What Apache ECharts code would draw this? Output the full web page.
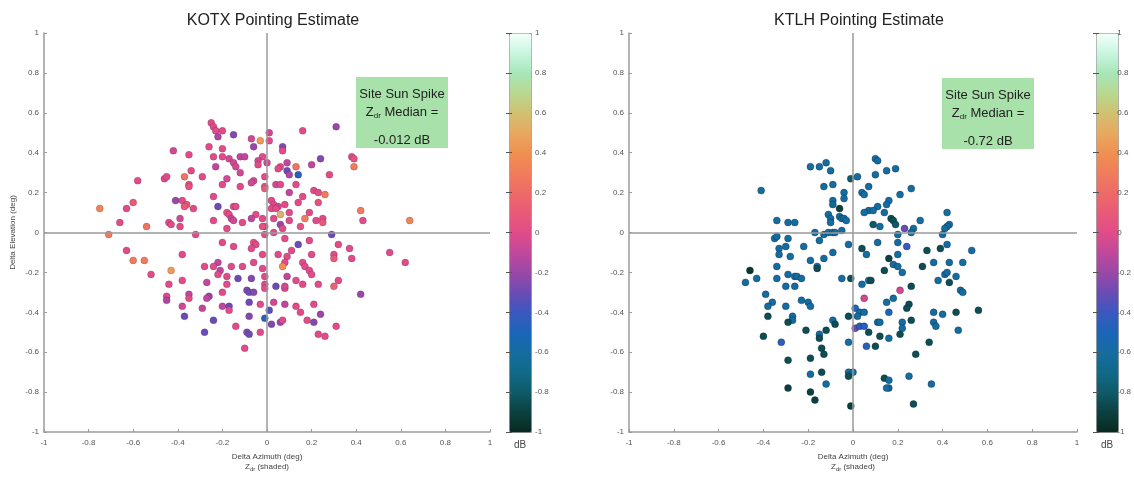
<!DOCTYPE html>
<html>
<head>
<meta charset="utf-8">
<script src="https://cdn.jsdelivr.net/npm/echarts@6/dist/echarts.min.js"></script>
<style>
  html, body { margin: 0; padding: 0; background: #fff; }
  #chart { width: 1134px; height: 478px; }
</style>
</head>
<body>
<div id="chart"></div>
<script>
// tick values / labels shared by every axis
const tickLabels = ["-1", "-0.8", "-0.6", "-0.4", "-0.2", "0", "0.2", "0.4", "0.6", "0.8", "1"];
const siteTitles = ["KOTX Pointing Estimate", "KTLH Pointing Estimate"];
const siteMedians = ["-0.012 dB", "-0.72 dB"];

// [delta azimuth, delta elevation, Zdr dB]
const kotxPoints = [
  [-0.25, 0.55, 0], [-0.24, 0.53, 0], [-0.23, 0.51, 0], [-0.22, 0.48, -0.15], [-0.2, 0.51, 0],
  [-0.15, 0.49, -0.25], [0.01, 0.5, -0.05], [0.16, 0.51, 0], [0.31, 0.53, -0.2],
  [-0.03, 0.46, 0.45], [0.01, 0.46, 0], [-0.07, 0.47, -0.05], [-0.06, 0.43, -0.2], [0.07, 0.43, -0.25],
  [-0.26, 0.43, 0], [-0.2, 0.42, 0], [-0.42, 0.41, -0.05], [0.07, 0.41, 0],
  [-0.35, 0.39, 0], [-0.24, 0.38, 0], [-0.2, 0.38, 0], [-0.12, 0.38, -0.1], [-0.1, 0.38, -0.1],
  [-0.02, 0.38, 0], [-0.04, 0.36, -0.05], [0.38, 0.38, 0], [0.39, 0.37, 0.05], [-0.17, 0.37, -0.05],
  [-0.15, 0.35, -0.05], [-0.14, 0.33, -0.05], [-0.23, 0.33, -0.1], [-0.04, 0.34, 0], [0.0, 0.35, -0.05],
  [0.06, 0.33, 0], [0.05, 0.32, 0], [0.09, 0.35, -0.1], [0.13, 0.33, 0.25], [0.2, 0.34, -0.1],
  [0.24, 0.37, -0.25], [0.39, 0.33, 0.3],
  [0.09, 0.31, -0.3], [0.1, 0.29, -0.15], [0.14, 0.29, -0.45], [-0.34, 0.31, 0], [-0.12, 0.3, -0.05],
  [-0.46, 0.27, 0], [-0.45, 0.28, 0], [-0.37, 0.28, 0.25], [-0.29, 0.28, 0], [-0.18, 0.27, -0.05],
  [-0.01, 0.28, 0], [0.28, 0.29, 0], [-0.58, 0.26, 0], [-0.35, 0.24, 0.05], [-0.35, 0.23, 0.05],
  [-0.06, 0.26, -0.05], [-0.07, 0.25, -0.05], [-0.2, 0.24, 0], [-0.12, 0.23, 0], [0.04, 0.24, -0.05],
  [0.06, 0.24, 0], [0.13, 0.24, 0], [-0.01, 0.23, 0.1], [-0.01, 0.22, 0.1], [0.21, 0.21, 0],
  [0.23, 0.2, 0], [0.26, 0.19, 0.3], [0.1, 0.2, -0.1], [0.16, 0.18, 0], [-0.24, 0.18, 0],
  [-0.41, 0.16, -0.2], [-0.38, 0.16, 0], [-0.36, 0.14, 0.1], [-0.37, 0.13, 0.1], [-0.6, 0.15, 0.1],
  [-0.63, 0.12, 0], [-0.75, 0.12, 0.35], [-0.22, 0.13, -0.3], [-0.15, 0.13, 0], [-0.14, 0.13, 0],
  [0.02, 0.16, 0], [0.03, 0.14, 0], [0.05, 0.13, -0.05], [0.08, 0.14, 0], [0.14, 0.15, 0],
  [0.23, 0.15, 0.05], [0.02, 0.12, 0], [0.04, 0.12, 0], [0.06, 0.09, 0.55], [-0.33, 0.12, 0],
  [-0.18, 0.1, 0.05], [-0.17, 0.09, 0], [-0.05, 0.09, 0], [0.1, 0.1, 0], [0.19, 0.1, 0],
  [0.42, 0.11, 0.3], [0.64, 0.06, 0.35], [-0.39, 0.07, -0.05], [-0.16, 0.07, -0.1], [-0.15, 0.06, -0.05],
  [-0.11, 0.05, 0], [-0.07, 0.07, -0.1], [-0.02, 0.07, 0], [0.03, 0.07, 0], [0.06, 0.04, -0.2],
  [0.1, 0.06, 0], [0.17, 0.07, 0.3], [0.22, 0.06, 0], [0.25, 0.07, 0], [0.25, 0.05, 0.1],
  [0.43, 0.06, 0], [-0.66, 0.05, 0], [-0.44, 0.05, 0], [-0.43, 0.04, 0], [-0.54, 0.03, 0.25],
  [-0.39, 0.03, 0], [-0.24, 0.06, 0], [-0.18, 0.02, 0], [-0.01, 0.03, 0], [-0.02, 0.03, 0.05],
  [0.07, 0.02, 0], [0.15, 0.03, 0.05], [-0.71, -0.01, 0.3], [-0.32, -0.01, 0], [-0.01, -0.01, 0],
  [0.03, 0.0, 0], [0.29, -0.01, -0.3],
  [-0.06, -0.05, 0.05], [-0.2, -0.05, 0], [-0.05, -0.06, 0], [-0.15, -0.07, 0], [-0.07, -0.08, 0],
  [0.08, -0.03, 0], [0.14, -0.06, -0.3], [0.19, -0.04, 0], [0.32, -0.06, 0], [0.37, -0.08, 0],
  [-0.63, -0.09, 0], [0.11, -0.09, 0], [0.09, -0.12, 0], [-0.02, -0.11, 0], [0.05, -0.11, 0],
  [0.2, -0.11, 0], [0.3, -0.11, 0], [0.3, -0.13, 0.1], [0.38, -0.13, 0], [0.55, -0.1, 0],
  [0.62, -0.15, 0], [-0.55, -0.14, 0.3], [-0.6, -0.14, 0.3], [-0.38, -0.11, 0], [-0.22, -0.15, -0.1],
  [-0.24, -0.17, 0], [-0.16, -0.17, 0], [-0.21, -0.19, -0.1], [-0.22, -0.21, 0], [-0.43, -0.19, 0.45],
  [0.08, -0.15, 0], [0.07, -0.17, 0.4], [0.16, -0.15, 0], [0.17, -0.17, 0], [0.19, -0.19, 0],
  [0.2, -0.21, 0], [-0.52, -0.21, 0], [-0.28, -0.17, 0], [-0.11, -0.17, 0], [-0.06, -0.15, 0],
  [-0.02, -0.18, 0], [0.09, -0.22, -0.1], [-0.18, -0.22, 0], [-0.13, -0.23, -0.3], [-0.07, -0.23, -0.25],
  [-0.01, -0.22, 0], [-0.38, -0.24, 0], [-0.44, -0.26, 0], [-0.27, -0.25, -0.1], [-0.18, -0.26, 0],
  [-0.01, -0.26, 0], [-0.01, -0.28, 0], [0.04, -0.27, -0.3], [0.08, -0.28, 0], [0.08, -0.27, -0.05],
  [0.13, -0.24, 0], [0.16, -0.26, 0], [0.23, -0.26, 0], [0.3, -0.27, 0.15], [0.32, -0.24, 0],
  [0.42, -0.31, -0.2], [-0.09, -0.29, -0.25], [-0.08, -0.3, -0.3], [-0.06, -0.3, -0.25], [-0.35, -0.31, -0.1],
  [-0.35, -0.33, 0], [-0.45, -0.32, 0], [-0.45, -0.34, -0.15], [-0.26, -0.32, -0.2], [-0.27, -0.33, -0.1],
  [-0.2, -0.3, 0], [-0.08, -0.35, -0.3], [-0.03, -0.36, 0], [0.03, -0.35, -0.05], [0.08, -0.36, -0.1],
  [0.13, -0.37, 0], [0.21, -0.36, 0], [-0.38, -0.37, -0.05], [-0.29, -0.38, -0.1], [-0.2, -0.37, -0.1],
  [-0.17, -0.37, -0.3], [-0.17, -0.39, 0], [0.01, -0.39, -0.35], [0.15, -0.4, 0], [0.24, -0.41, -0.2],
  [-0.37, -0.42, -0.3], [-0.08, -0.42, -0.25], [-0.24, -0.44, -0.3], [-0.01, -0.43, -0.45], [0.06, -0.45, -0.2],
  [0.07, -0.44, 0], [0.18, -0.44, 0], [0.21, -0.45, -0.25], [-0.14, -0.47, 0], [0.02, -0.46, -0.25],
  [0.31, -0.47, 0], [-0.28, -0.5, -0.3], [-0.09, -0.5, -0.25], [-0.08, -0.51, -0.3], [-0.03, -0.5, 0],
  [0.23, -0.51, 0], [0.26, -0.52, 0], [-0.1, -0.58, 0]
];

const ktlhPoints = [
  [0.1, 0.37, -0.6], [0.11, 0.36, -0.6], [-0.19, 0.33, -0.6], [-0.15, 0.33, -0.6], [-0.12, 0.35, -0.6],
  [-0.1, 0.31, -0.6], [0.15, 0.31, -0.6], [0.19, 0.32, -0.6], [-0.01, 0.27, -0.8], [0.02, 0.28, -0.6],
  [0.1, 0.29, -0.6], [0.04, 0.2, -0.6], [0.05, 0.19, -0.6], [-0.13, 0.23, -0.6], [-0.09, 0.24, -0.6],
  [-0.04, 0.2, -0.6], [-0.04, 0.17, -0.6], [0.07, 0.23, -0.6], [0.21, 0.19, -0.6], [0.26, 0.22, -0.6],
  [-0.41, 0.21, -0.6], [-0.09, 0.16, -0.6], [-0.09, 0.14, -0.65], [-0.06, 0.12, -0.9], [0.16, 0.16, -0.6],
  [0.15, 0.14, -0.6], [0.11, 0.13, -0.6], [0.07, 0.11, -0.6], [0.09, 0.11, -0.6], [0.05, 0.1, -0.6],
  [0.14, 0.1, -0.6], [-0.11, 0.09, -0.6], [-0.1, 0.07, -0.6], [-0.06, 0.08, -0.6], [-0.05, 0.07, -0.6],
  [-0.04, 0.07, -0.6], [-0.03, 0.06, -0.6], [-0.1, 0.05, -0.6], [0.09, 0.04, -0.8], [0.12, 0.03, -0.6],
  [0.17, 0.07, -0.85], [0.18, 0.06, -0.85], [0.19, 0.04, -0.8], [-0.34, 0.06, -0.6], [-0.29, 0.05, -0.6],
  [-0.26, 0.05, -0.6], [0.3, 0.06, -0.6], [0.42, 0.1, -0.6], [0.43, 0.04, -0.6], [0.42, 0.03, -0.6],
  [0.41, 0.02, -0.6], [0.4, -0.01, -0.6], [0.23, 0.02, -0.3], [0.27, 0.02, -0.6], [0.26, 0.0, -0.6],
  [0.2, -0.01, -0.6], [-0.17, 0.0, -0.6], [-0.15, -0.04, -0.6], [-0.13, -0.01, -0.6], [-0.11, 0.0, -0.6],
  [-0.09, 0.0, -0.6], [-0.08, 0.0, -0.6], [-0.05, 0.01, -0.6], [-0.35, -0.03, -0.6], [-0.34, -0.02, -0.6],
  [-0.33, -0.08, -0.6], [-0.29, -0.03, -0.6], [-0.3, -0.07, -0.6], [-0.22, -0.07, -0.6], [-0.33, -0.11, -0.6],
  [-0.28, -0.12, -0.6], [-0.19, -0.14, -0.6], [-0.13, -0.13, -0.6], [-0.09, -0.1, -0.6], [-0.02, -0.06, -0.6],
  [0.04, -0.08, -0.85], [0.06, -0.11, -0.6], [0.11, -0.05, -0.6], [0.2, -0.05, -0.6], [0.24, -0.07, -0.4],
  [0.33, -0.09, -0.85], [0.39, -0.08, -0.85], [0.42, -0.06, -0.6], [0.53, -0.09, -0.6], [0.16, -0.13, -0.9],
  [0.18, -0.16, -0.6], [0.2, -0.17, -0.6], [0.2, -0.11, -0.6], [0.36, -0.15, -0.6], [0.43, -0.15, -0.6],
  [0.49, -0.15, -0.6], [0.31, -0.17, -0.85], [-0.34, -0.17, -0.6], [-0.16, -0.17, -0.6], [-0.16, -0.18, -0.85],
  [-0.46, -0.19, -0.95], [-0.43, -0.23, -0.6], [-0.48, -0.25, -0.6], [-0.34, -0.23, -0.6], [-0.29, -0.21, -0.6],
  [-0.26, -0.22, -0.6], [-0.25, -0.22, -0.6], [-0.23, -0.23, -0.6], [-0.3, -0.27, -0.6], [-0.26, -0.27, -0.6],
  [-0.05, -0.23, -0.6], [-0.01, -0.23, -0.85], [0.04, -0.26, -0.6], [0.07, -0.24, -0.6], [0.08, -0.24, -0.85],
  [0.14, -0.19, -0.85], [0.22, -0.2, -0.6], [0.41, -0.21, -0.6], [0.42, -0.2, -0.6], [0.46, -0.22, -0.6],
  [0.43, -0.25, -0.85], [0.38, -0.24, -0.6], [0.48, -0.29, -0.6], [0.49, -0.3, -0.6], [0.26, -0.27, -0.85],
  [0.21, -0.29, -0.05], [0.05, -0.33, -0.05], [-0.39, -0.31, -0.6], [-0.36, -0.35, -0.6], [-0.38, -0.37, -0.6],
  [-0.3, -0.37, -0.6], [-0.23, -0.34, -0.6], [-0.2, -0.35, -0.6], [-0.19, -0.37, -0.6], [0.15, -0.35, -0.6],
  [0.18, -0.33, -0.6], [0.25, -0.36, -0.85], [0.24, -0.38, -0.85], [0.16, -0.4, -0.5], [0.01, -0.38, -0.5],
  [0.03, -0.4, -0.6], [0.05, -0.4, -0.6], [0.02, -0.42, -0.6], [-0.02, -0.42, -0.85], [-0.38, -0.42, -0.85],
  [-0.27, -0.42, -0.6], [-0.27, -0.44, -0.6], [-0.29, -0.45, -0.85], [-0.09, -0.44, -0.6], [-0.08, -0.46, -0.85],
  [0.01, -0.48, -0.3], [0.03, -0.47, -0.45], [0.05, -0.47, -0.45], [0.11, -0.45, -0.6], [0.12, -0.45, -0.6],
  [0.22, -0.45, -0.6], [0.26, -0.44, -0.85], [0.22, -0.48, -0.6], [0.21, -0.51, -0.85], [0.36, -0.4, -0.6],
  [0.36, -0.45, -0.6], [0.37, -0.47, -0.6], [0.4, -0.41, -0.6], [0.46, -0.4, -0.85], [0.56, -0.39, -0.85],
  [0.47, -0.49, -0.6], [-0.21, -0.49, -0.85], [-0.12, -0.49, -0.85], [-0.15, -0.51, -0.6], [-0.15, -0.53, -0.85],
  [-0.4, -0.52, -0.85], [0.07, -0.5, -0.85], [0.12, -0.52, -0.85], [0.16, -0.53, -0.6], [-0.32, -0.55, -0.45],
  [-0.02, -0.55, -0.6], [0.06, -0.57, -0.45], [0.1, -0.57, -0.85], [0.34, -0.55, -0.85], [-0.14, -0.58, -0.85],
  [-0.13, -0.61, -0.85], [0.28, -0.61, -0.85], [-0.29, -0.64, -0.85], [-0.19, -0.63, -0.85], [-0.19, -0.71, -0.6],
  [-0.14, -0.7, -0.85], [-0.02, -0.7, -0.6], [0.0, -0.7, -0.6], [-0.02, -0.72, -0.85], [0.14, -0.73, -0.85],
  [0.16, -0.74, -0.6], [0.16, -0.78, -0.6], [0.15, -0.78, -0.6], [0.25, -0.72, -0.6], [0.35, -0.76, -0.6],
  [-0.12, -0.76, -0.6], [-0.29, -0.78, -0.9], [-0.19, -0.8, -0.9], [-0.17, -0.84, -0.9], [-0.01, -0.87, -0.9],
  [0.27, -0.86, -0.85]
];

// colour ramp from -1 (bottom) to 1 (top)
const zdrColors = [
  "#082a1e", "#0c4040", "#0f5a68", "#106a88", "#156ca0", "#1a66b8", "#3a58c0", "#6a4cb4",
  "#9a48a8", "#c0489c", "#e04c88", "#e85a78", "#ee6a68", "#f07c5c", "#f09050", "#e8a860",
  "#d0c070", "#b8d890", "#a8e6b8", "#c8f5e0", "#f4fffb"
];

const font = "Liberation Sans, Arial, sans-serif";
const fmt = v => tickLabels[Math.round((v + 1) * 5)];

const plotGrids = [
  { left: 44, right: 644, top: 33, bottom: 46 },
  { left: 629, right: 57, top: 33, bottom: 46 }
];
const barGrids = [
  { left: 509, width: 22, top: 33, height: 399 },
  { left: 1096, width: 22, top: 33, height: 399 }
];

const xAxes = [];
const yAxes = [];
[0, 1].forEach(i => {
  xAxes.push({
    type: "value", gridIndex: i, min: -1, max: 1, interval: 0.2,
    axisLine: { onZero: false, lineStyle: { color: "#9a9a9a", width: 1.5 } },
    axisTick: { inside: true, length: 3, lineStyle: { color: "#9a9a9a" } },
    splitLine: { show: false },
    axisLabel: { formatter: fmt, fontSize: 8, color: "#555", fontFamily: font, margin: 7 },
    name: "Delta Azimuth (deg)\n{z|Z}{s|dr} {z|(shaded)}",
    nameLocation: "middle", nameGap: 20,
    nameTextStyle: {
      fontSize: 8, color: "#444", fontFamily: font, lineHeight: 10,
      rich: { z: { fontSize: 8, color: "#444" }, s: { fontSize: 6, color: "#444", verticalAlign: "bottom", padding: [4, 0, 0, 0] } }
    }
  });
  yAxes.push({
    type: "value", gridIndex: i, min: -1, max: 1, interval: 0.2,
    axisLine: { onZero: false, lineStyle: { color: "#9a9a9a", width: 1.5 } },
    axisTick: { inside: true, length: 3, lineStyle: { color: "#9a9a9a" } },
    splitLine: { show: false },
    axisLabel: { formatter: fmt, fontSize: 8, color: "#555", fontFamily: font, margin: 5 },
    name: i === 0 ? "Delta Elevation (deg)" : "",
    nameLocation: "middle", nameGap: 27,
    nameTextStyle: { fontSize: 8, color: "#444", fontFamily: font }
  });
});
// colour bar tick axes
[0, 1].forEach(i => {
  xAxes.push({ type: "value", gridIndex: 2 + i, min: 0, max: 1, show: false });
  yAxes.push({
    type: "value", gridIndex: 2 + i, position: "right", min: -1, max: 1, interval: 0.2, z: 10,
    axisLine: { show: false },
    axisTick: { inside: true, length: 3, lineStyle: { color: "#555" } },
    splitLine: { show: false },
    axisLabel: { formatter: fmt, fontSize: 8, color: "#555", fontFamily: font, margin: 4 }
  });
  yAxes.push({
    type: "value", gridIndex: 2 + i, position: "left", min: -1, max: 1, interval: 0.2, z: 10,
    axisLine: { show: false },
    axisTick: { inside: true, length: 3, lineStyle: { color: "#555" } },
    splitLine: { show: false },
    axisLabel: { show: false }
  });
});

const crossLine = {
  silent: true, symbol: "none", animation: false,
  label: { show: false },
  lineStyle: { color: "#9a9a9a", width: 1.5, type: "solid" },
  data: [{ xAxis: 0 }, { yAxis: 0 }]
};

const textBox = (cx, top, median) => ({
  type: "group",
  children: [
    { type: "rect", shape: { x: cx - 46, y: top, width: 92, height: 71 }, style: { fill: "#a8e2aa" } },
    { type: "text", x: cx, y: top + 17, style: { text: "Site Sun Spike", fill: "#222", font: "13px " + font, align: "center", verticalAlign: "middle" } },
    {
      type: "text", x: cx, y: top + 35,
      style: {
        text: "{z|Z}{s|dr}{z| Median =}", align: "center", verticalAlign: "middle",
        rich: {
          z: { fill: "#222", font: "13px " + font },
          s: { fill: "#222", font: "8px " + font, verticalAlign: "bottom", padding: [7, 0, 0, 0] }
        }
      }
    },
    { type: "text", x: cx, y: top + 63, style: { text: median, fill: "#222", font: "13px " + font, align: "center", verticalAlign: "middle" } }
  ]
});

const chart = echarts.init(document.getElementById("chart"));
chart.setOption({
  animation: false,
  backgroundColor: "#fff",
  title: [
    { text: siteTitles[0], left: 268, top: 8, textAlign: "center", textStyle: { fontSize: 16, fontWeight: "normal", color: "#222", fontFamily: font } },
    { text: siteTitles[1], left: 854, top: 8, textAlign: "center", textStyle: { fontSize: 16, fontWeight: "normal", color: "#222", fontFamily: font } }
  ],
  grid: plotGrids.concat(barGrids),
  xAxis: xAxes,
  yAxis: yAxes,
  visualMap: [0, 1].map(i => ({
    type: "continuous", seriesIndex: i, dimension: 2, min: -1, max: 1,
    calculable: false, text: null, padding: 0,
    left: barGrids[i].left, top: 33, itemWidth: 22, itemHeight: 399,
    borderColor: "#9a9a9a", borderWidth: 1,
    inRange: { color: zdrColors }
  })),
  series: [
    {
      type: "scatter", xAxisIndex: 0, yAxisIndex: 0, data: kotxPoints,
      symbolSize: 7, itemStyle: { opacity: 1, borderColor: "rgba(60,20,60,0.35)", borderWidth: 0.6 },
      markLine: crossLine
    },
    {
      type: "scatter", xAxisIndex: 1, yAxisIndex: 1, data: ktlhPoints,
      symbolSize: 7, itemStyle: { opacity: 1, borderColor: "rgba(0,20,30,0.5)", borderWidth: 0.6 },
      markLine: crossLine
    }
  ],
  graphic: [
    textBox(402, 77, siteMedians[0]),
    textBox(988, 78, siteMedians[1]),
    { type: "text", x: 520, y: 445, style: { text: "dB", fill: "#444", font: "10px " + font, align: "center", verticalAlign: "middle" } },
    { type: "text", x: 1107, y: 445, style: { text: "dB", fill: "#444", font: "10px " + font, align: "center", verticalAlign: "middle" } }
  ]
});
</script>
</body>
</html>
